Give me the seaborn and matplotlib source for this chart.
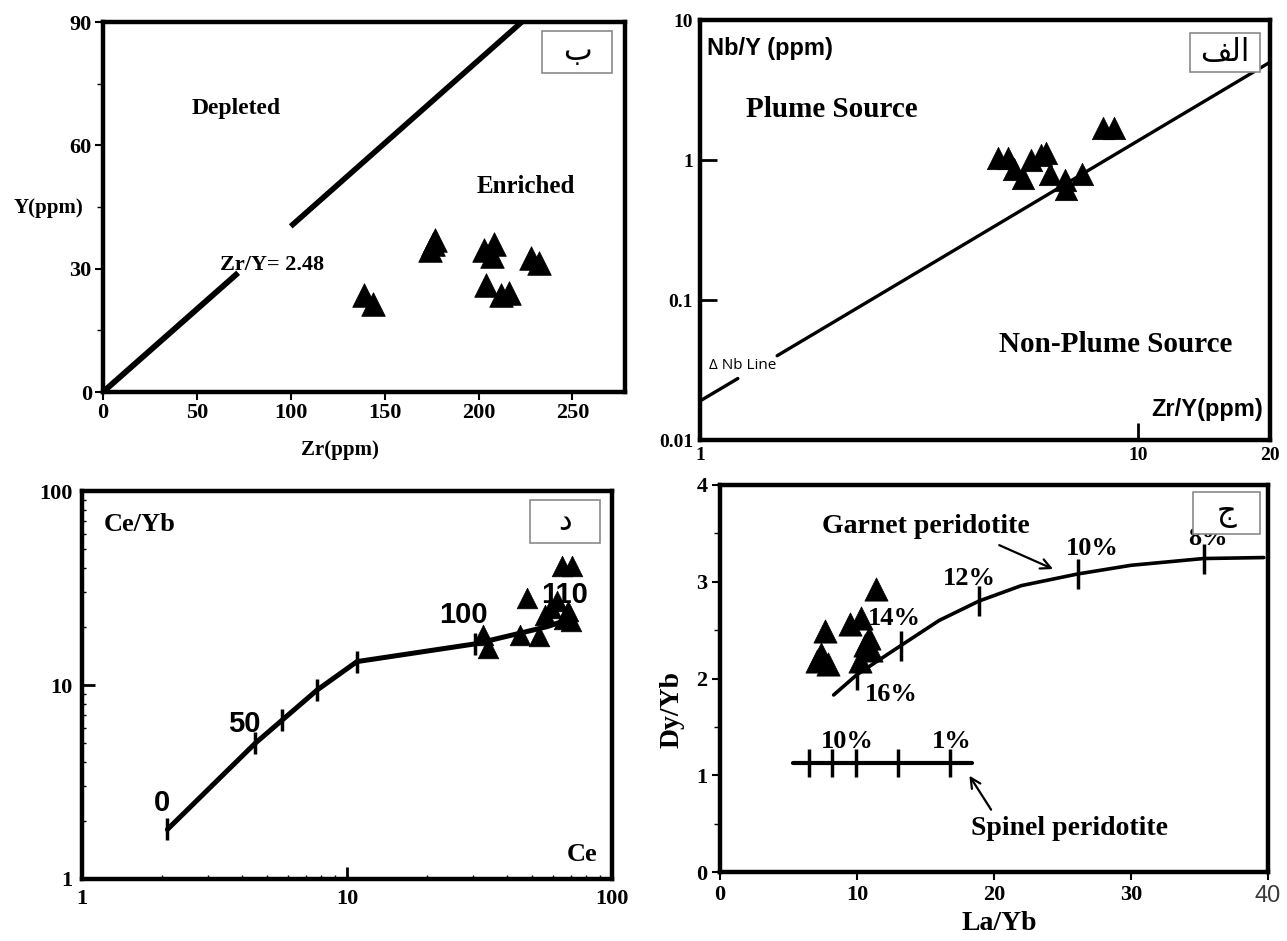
import numpy as np
import pandas as pd
import matplotlib
matplotlib.use('Agg')
import matplotlib.pyplot as plt
from matplotlib.patches import Rectangle
import seaborn as sns

# ==============================
# data
# ==============================
# (b) Zr vs Y
zr_ppm = [139, 144, 174, 177, 176, 203, 208, 207, 204, 212, 216, 228, 232]
y_ppm = [23.5, 21.5, 34.5, 37, 36, 34.5, 36, 33, 26, 23.5, 24, 32.5, 31.5]
zry_line_x = [0, 72, 100, 223]
zry_line_y = [0, 29, 40.3, 90]

# (alef) Zr/Y vs Nb/Y
zr_y = [4.8, 5.05, 5.2, 5.45, 5.7, 6.0, 6.15, 6.3, 6.8, 6.85, 7.45, 8.3, 8.8]
nb_y = [1.03, 1.03, 0.86, 0.75, 1.0, 1.08, 1.12, 0.80, 0.72, 0.62, 0.80, 1.70, 1.70]
nb_line_x = [1.0, 1.22, 1.5, 20]
nb_line_y = [0.019, 0.0275, 0.040, 5.0]

# (d) Ce vs Ce/Yb
ce = [32.5, 34, 45, 53, 48, 56, 59, 62, 66, 70, 64.5, 70.5, 68]
ce_yb = [18, 15.5, 18, 17.8, 28, 23, 25, 27, 22, 21.5, 41, 41, 24]
melt_curve_x = [2.1, 4.5, 5.7, 7.7, 10.9, 30.5, 45, 57, 70]
melt_curve_y = [1.8, 5.0, 6.6, 9.4, 13.2, 16.3, 18.5, 20, 22]
melt_tick_x = [2.1, 4.5, 5.7, 7.7, 10.9, 30.5]
melt_tick_y = [1.8, 5.0, 6.6, 9.4, 13.2, 16.3]
melt_labels = ['0', '50', '100', '110']
melt_label_x = [2.0, 4.1, 27.5, 66]
melt_label_y = [2.45, 6.3, 23.0, 29]

# (j) La/Yb vs Dy/Yb
la_yb = [11.4, 9.5, 10.3, 7.7, 7.4, 7.1, 7.9, 10.6, 10.9, 10.2, 11.0]
dy_yb = [2.93, 2.56, 2.63, 2.49, 2.25, 2.18, 2.15, 2.35, 2.42, 2.18, 2.29]
garnet_x = [8.3, 10, 13.2, 16, 18.9, 22, 26.1, 30, 35.3, 39.7]
garnet_y = [1.83, 2.04, 2.34, 2.6, 2.80, 2.96, 3.08, 3.17, 3.24, 3.25]
garnet_tick_x = [10, 13.2, 18.9, 26.1, 35.3]
garnet_tick_y = [2.04, 2.34, 2.80, 3.08, 3.24]
garnet_pct = ['16%', '14%', '12%', '10%', '8%']
garnet_pct_x = [12.5, 12.7, 18.2, 27.2, 35.6]
garnet_pct_y = [1.83, 2.62, 3.03, 3.34, 3.45]
spinel_x = [5.3, 18.4]
spinel_y = [1.125, 1.125]
spinel_tick_x = [6.5, 8.2, 9.9, 13.0, 16.8]
spinel_pct = ['10%', '1%']
spinel_pct_x = [9.3, 16.9]
spinel_pct_y = [1.35, 1.35]

panel_tags = ['\u0628', '\uFED2\uFEDF\uFE8D', '\u062F', '\u062C']

sns.set_style('ticks')
plt.rcParams['font.family'] = ['Liberation Serif', 'DejaVu Sans']
plt.rcParams['font.weight'] = 'bold'
plt.rcParams['axes.linewidth'] = 3.2
plt.rcParams['axes.edgecolor'] = 'black'
plt.rcParams['text.color'] = 'black'
plt.rcParams['axes.labelcolor'] = 'black'
plt.rcParams['xtick.color'] = 'black'
plt.rcParams['ytick.color'] = 'black'

SANS = ['Liberation Sans', 'DejaVu Sans']

fig = plt.figure(figsize=(12.87, 9.41), dpi=100)
ax1 = fig.add_axes([0.0800, 0.5834, 0.4056, 0.3932])
ax2 = fig.add_axes([0.5439, 0.5324, 0.4429, 0.4463])
ax3 = fig.add_axes([0.0637, 0.0659, 0.4118, 0.4123])
ax4 = fig.add_axes([0.5594, 0.0733, 0.4258, 0.4113])


def tag_box(ax, txt, x0, y0, w, h):
    ax.add_patch(Rectangle((x0, y0), w, h, transform=ax.transAxes, facecolor='white',
                           edgecolor='#8a8a8a', lw=1.2, zorder=6, clip_on=False))
    ax.text(x0 + w / 2, y0 + h / 2, txt, transform=ax.transAxes, ha='center', va='center',
            fontsize=22, fontweight='normal', family=['DejaVu Sans'], zorder=7)


def triangles(ax, x, y, s):
    df = pd.DataFrame({'x': x, 'y': y})
    sns.scatterplot(data=df, x='x', y='y', marker='^', s=s, color='black',
                    edgecolor='black', linewidth=0.5, legend=False, ax=ax, zorder=4)
    ax.set_xlabel('')
    ax.set_ylabel('')


# ==============================
# (b) Zr - Y
# ==============================
ax1.plot(zry_line_x[:2], zry_line_y[:2], color='black', lw=4.2, solid_capstyle='butt')
ax1.plot(zry_line_x[2:], zry_line_y[2:], color='black', lw=4.0, solid_capstyle='butt')
triangles(ax1, zr_ppm, y_ppm, 290)
ax1.set_xlim(0, 278)
ax1.set_ylim(0, 90)
ax1.set_xticks([0, 50, 100, 150, 200, 250])
ax1.set_yticks([0, 30, 60, 90])
ax1.set_yticks([15, 45, 75], minor=True)
ax1.tick_params(axis='both', which='major', direction='out', length=6, width=1.5,
                labelsize=16, pad=2)
ax1.tick_params(axis='y', which='minor', direction='out', length=4, width=1)
ax1.text(71, 69, 'Depleted', ha='center', va='center', fontsize=17)
ax1.text(225, 50, 'Enriched', ha='center', va='center', fontsize=18)
ax1.text(90, 31, 'Zr/Y= 2.48', ha='center', va='center', fontsize=16)
ax1.set_xlabel('Zr(ppm)', fontsize=15, fontweight='bold')
ax1.xaxis.set_label_coords(0.454, -0.13)
ax1.set_ylabel('Y(ppm)', fontsize=15, fontweight='bold', rotation=0)
ax1.yaxis.set_label_coords(-0.105, 0.47)
tag_box(ax1, panel_tags[0], 0.842, 0.863, 0.133, 0.113)

# ==============================
# (alef) Zr/Y - Nb/Y
# ==============================
ax2.set_xscale('log')
ax2.set_yscale('log')
ax2.plot(nb_line_x[:2], nb_line_y[:2], color='black', lw=2.4)
ax2.plot(nb_line_x[2:], nb_line_y[2:], color='black', lw=2.4)
triangles(ax2, zr_y, nb_y, 260)
ax2.set_xlim(1, 20)
ax2.set_ylim(0.01, 10)
ax2.set_xticks([1, 10, 20])
ax2.set_xticklabels(['1', '10', '20'])
ax2.set_yticks([0.01, 0.1, 1, 10])
ax2.set_yticklabels(['0.01', '0.1', '1', '10'])
ax2.minorticks_off()
ax2.tick_params(axis='both', which='major', direction='in', length=12, width=2,
                labelsize=14, pad=5)
ax2.text(1.04, 6.3, 'Nb/Y (ppm)', ha='left', va='center', fontsize=17,
         family=SANS, fontweight='bold')
ax2.text(2.0, 2.3, 'Plume Source', ha='center', va='center', fontsize=21)
ax2.text(8.9, 0.048, 'Non-Plume Source', ha='center', va='center', fontsize=21)
ax2.text(19.3, 0.0165, 'Zr/Y(ppm)', ha='right', va='center', fontsize=17,
         family=SANS, fontweight='bold')
ax2.text(1.05, 0.034, '\u0394 Nb Line', ha='left', va='center', fontsize=11,
         family=['Open Sans', 'DejaVu Sans'], fontweight='normal')
tag_box(ax2, panel_tags[1], 0.859, 0.877, 0.123, 0.091)

# ==============================
# (d) Ce - Ce/Yb
# ==============================
ax3.set_xscale('log')
ax3.set_yscale('log')
ax3.plot(melt_curve_x, melt_curve_y, color='black', lw=3.6, solid_joinstyle='round')
ax3.plot(melt_tick_x, melt_tick_y, linestyle='none', marker='|', ms=16, mew=2.5,
         color='black')
triangles(ax3, ce, ce_yb, 220)
for lab, lx, ly in zip(melt_labels, melt_label_x, melt_label_y):
    ax3.text(lx, ly, lab, ha='center', va='center', fontsize=21, family=SANS,
             fontweight='bold', zorder=5)
ax3.set_xlim(1, 100)
ax3.set_ylim(1, 100)
ax3.set_xticks([1, 10, 100])
ax3.set_xticklabels(['1', '10', '100'])
ax3.set_yticks([1, 10, 100])
ax3.set_yticklabels(['1', '10', '100'])
ax3.tick_params(axis='both', which='major', direction='in', length=9, width=2,
                labelsize=16, pad=7)
ax3.tick_params(axis='both', which='minor', direction='in', length=3, width=1)
ax3.yaxis.set_minor_formatter(plt.NullFormatter())
ax3.xaxis.set_minor_formatter(plt.NullFormatter())
ax3.text(1.21, 67, 'Ce/Yb', ha='left', va='center', fontsize=19)
ax3.text(88, 1.33, 'Ce', ha='right', va='center', fontsize=19)
tag_box(ax3, panel_tags[2], 0.846, 0.866, 0.131, 0.111)

# ==============================
# (j) La/Yb - Dy/Yb
# ==============================
ax4.plot(garnet_x, garnet_y, color='black', lw=2.6)
ax4.plot(garnet_tick_x, garnet_tick_y, linestyle='none', marker='|', ms=22, mew=2.5,
         color='black')
ax4.plot(spinel_x, spinel_y, color='black', lw=3)
ax4.plot(spinel_tick_x, spinel_y[:1] * len(spinel_tick_x), linestyle='none', marker='|',
         ms=20, mew=2.5, color='black')
triangles(ax4, la_yb, dy_yb, 280)
for lab, lx, ly in zip(garnet_pct, garnet_pct_x, garnet_pct_y):
    ax4.text(lx, ly, lab, ha='center', va='center', fontsize=19, zorder=5)
for lab, lx, ly in zip(spinel_pct, spinel_pct_x, spinel_pct_y):
    ax4.text(lx, ly, lab, ha='center', va='center', fontsize=19)
ax4.text(15, 3.57, 'Garnet peridotite', ha='center', va='center', fontsize=20)
ax4.annotate('', xy=(24.5, 3.12), xytext=(20.2, 3.39),
             arrowprops=dict(arrowstyle='->', lw=1.6, color='black', mutation_scale=18))
ax4.text(25.5, 0.45, 'Spinel peridotite', ha='center', va='center', fontsize=20)
ax4.annotate('', xy=(18.1, 1.02), xytext=(19.9, 0.62),
             arrowprops=dict(arrowstyle='->', lw=1.6, color='black', mutation_scale=18))
ax4.set_xlim(0, 40)
ax4.set_ylim(0, 4)
ax4.set_xticks([0, 10, 20, 30, 40])
ax4.set_xticklabels(['0', '10', '20', '30', '40'])
ax4.set_yticks([0, 1, 2, 3, 4])
ax4.set_yticks([0.5, 1.5, 2.5, 3.5], minor=True)
ax4.tick_params(axis='both', which='major', direction='out', length=6, width=1.5,
                labelsize=16, pad=3)
ax4.tick_params(axis='y', which='minor', direction='out', length=4, width=1)
last = ax4.get_xticklabels()[-1]
last.set_fontweight('normal')
last.set_family(['Liberation Sans', 'DejaVu Sans'])
last.set_color('#3a3a3a')
last.set_fontsize(17)
ax4.set_xlabel('La/Yb', fontsize=20, fontweight='bold')
ax4.xaxis.set_label_coords(0.51, -0.1)
ax4.set_ylabel('Dy/Yb', fontsize=20, fontweight='bold')
ax4.yaxis.set_label_coords(-0.065, 0.42)
tag_box(ax4, panel_tags[3], 0.863, 0.873, 0.123, 0.108)

for ax in (ax1, ax2, ax3, ax4):
    for sp in ax.spines.values():
        sp.set_linewidth(3.2)
        sp.set_visible(True)

fig.savefig('out.png', dpi=100)
